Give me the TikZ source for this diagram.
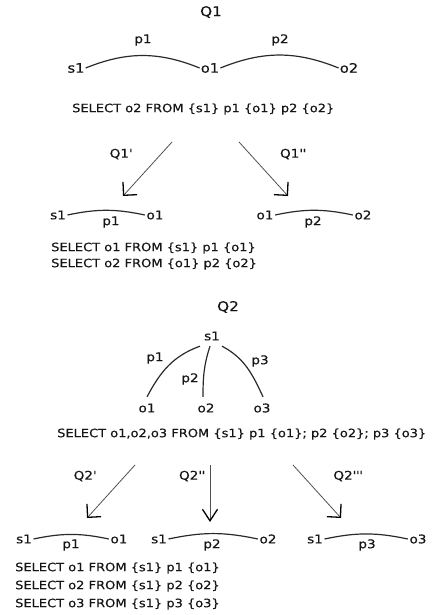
\documentclass[tikz,border=0pt]{standalone}
\usepackage{fontspec}
\setmainfont{DejaVu Sans}[FakeStretch=1.13, FakeBold=0.4]
\usetikzlibrary{arrows.meta}
\definecolor{ink}{HTML}{151515}
\definecolor{edge}{HTML}{2a2a2a}
\definecolor{shaft}{HTML}{505050}
\newcommand\myq{\textquotesingle}
\tikzset{
  title/.style={font=\fontsize{13.5}{16}\selectfont, text=ink, inner sep=1pt},
  big/.style={font=\fontsize{13}{15}\selectfont, text=ink, inner sep=1pt},
  lbl/.style={font=\fontsize{12}{14}\selectfont, text=ink, inner sep=1.5pt},
  query/.style={font=\fontsize{11.5}{13}\selectfont, text=ink, anchor=west, inner sep=0pt},
  link/.style={draw=edge, line width=1.2pt},
  split/.style={draw=shaft, line width=0.8pt,
    -{Straight Barb[length=9.5pt,width=19pt,line width=1.3pt,color=black]}},
  splitdown/.style={draw=shaft, line width=0.8pt,
    -{Straight Barb[length=11.5pt,width=15pt,line width=1.3pt,color=black]}},
}
\begin{document}
\begin{tikzpicture}[x=1pt,y=-1pt]
\useasboundingbox (0,0) rectangle (434,615);

% ---------- Q1: the path query ----------
\node[title] (q1) at (211,12) {Q1};
\node[big] (a-s1) at (76,68) {s1};
\node[big] (a-o1) at (210,68) {o1};
\node[big] (a-o2) at (349,68) {o2};
\node[lbl] (a-p1) at (143,40) {p1};
\node[lbl] (a-p2) at (280,40) {p2};
\draw[link] (a-s1.east) to[bend left=22] (a-o1.west);
\draw[link] (a-o1.east) to[bend left=22] (a-o2.west);
\node[query] (a-q) at (72,109) {SELECT o2 FROM \{s1\} p1 \{o1\} p2 \{o2\}};

% split of Q1
\coordinate (b-from1) at (172,142);
\coordinate (b-to1) at (123,196);
\coordinate (b-from2) at (239,142);
\coordinate (b-to2) at (288,196);
\draw[split] (b-from1) -- (b-to1);
\draw[split] (b-from2) -- (b-to2);
\node[lbl] (b-l1) at (121,154) {Q1\myq};
\node[lbl] (b-l2) at (293,154) {Q1\myq\myq};

% Q1' and Q1''
\node[lbl] (c-s1) at (58,215) {s1};
\node[lbl] (c-o1) at (155,215) {o1};
\node[lbl] (c-p1) at (111,222) {p1};
\draw[link] (c-s1.east) to[bend left=12] (c-o1.west);
\node[lbl] (d-o1) at (265,215) {o1};
\node[lbl] (d-o2) at (363,215) {o2};
\node[lbl] (d-p2) at (313,222) {p2};
\draw[link] (d-o1.east) to[bend left=12] (d-o2.west);
\node[query] (c-q1) at (51,248) {SELECT o1 FROM \{s1\} p1 \{o1\}};
\node[query] (c-q2) at (51,264) {SELECT o2 FROM \{o1\} p2 \{o2\}};

% ---------- Q2: the star query ----------
\node[title] (q2) at (228,307) {Q2};
\node[lbl] (e-s1) at (212,336) {s1};
\node[lbl] (e-o1) at (147,408) {o1};
\node[lbl] (e-o2) at (206,408) {o2};
\node[lbl] (e-o3) at (262,408) {o3};
\node[lbl] (e-p1) at (155,358) {p1};
\node[lbl] (e-p2) at (190,379) {p2};
\node[lbl] (e-p3) at (260,361) {p3};
\draw[link] ([xshift=-12pt,yshift=-4pt]e-s1.south) to[out=200,in=62] ([yshift=5pt]e-o1.north);
\draw[link] ([xshift=-2pt,yshift=-4pt]e-s1.south) to[out=252,in=90] ([xshift=-3pt,yshift=5pt]e-o2.north);
\draw[link] ([xshift=10pt,yshift=-4pt]e-s1.south) to[out=-28,in=115] ([xshift=1pt,yshift=5pt]e-o3.north);
\node[query] (e-q) at (57,434) {SELECT o1,o2,o3 FROM \{s1\} p1 \{o1\}; p2 \{o2\}; p3 \{o3\}};

% split of Q2
\coordinate (f-from1) at (135,465);
\coordinate (f-to1) at (87,518);
\coordinate (f-from2) at (210,465);
\coordinate (f-to2) at (210,522);
\coordinate (f-from3) at (293,465);
\coordinate (f-to3) at (341,518);
\draw[split] (f-from1) -- (f-to1);
\draw[splitdown] (f-from2) -- (f-to2);
\draw[split] (f-from3) -- (f-to3);
\node[lbl] (f-l1) at (85,476) {Q2\myq};
\node[lbl] (f-l2) at (192,476) {Q2\myq\myq};
\node[lbl] (f-l3) at (348,476) {Q2\myq\myq\myq};

% Q2', Q2'' and Q2'''
\node[lbl] (g-s1) at (24,539) {s1};
\node[lbl] (g-o1) at (119,539) {o1};
\node[lbl] (g-p1) at (71,545) {p1};
\draw[link] (g-s1.east) to[bend left=12] (g-o1.west);
\node[lbl] (h-s1) at (159,539) {s1};
\node[lbl] (h-o2) at (268,539) {o2};
\node[lbl] (h-p2) at (212,545) {p2};
\draw[link] (h-s1.east) to[bend left=12] (h-o2.west);
\node[lbl] (i-s1) at (315,539) {s1};
\node[lbl] (i-o3) at (418,539) {o3};
\node[lbl] (i-p3) at (367,545) {p3};
\draw[link] (i-s1.east) to[bend left=12] (i-o3.west);
\node[query] (g-q1) at (15,568) {SELECT o1 FROM \{s1\} p1 \{o1\}};
\node[query] (g-q2) at (15,586) {SELECT o2 FROM \{s1\} p2 \{o2\}};
\node[query] (g-q3) at (15,604) {SELECT o3 FROM \{s1\} p3 \{o3\}};
\end{tikzpicture}
\end{document}
